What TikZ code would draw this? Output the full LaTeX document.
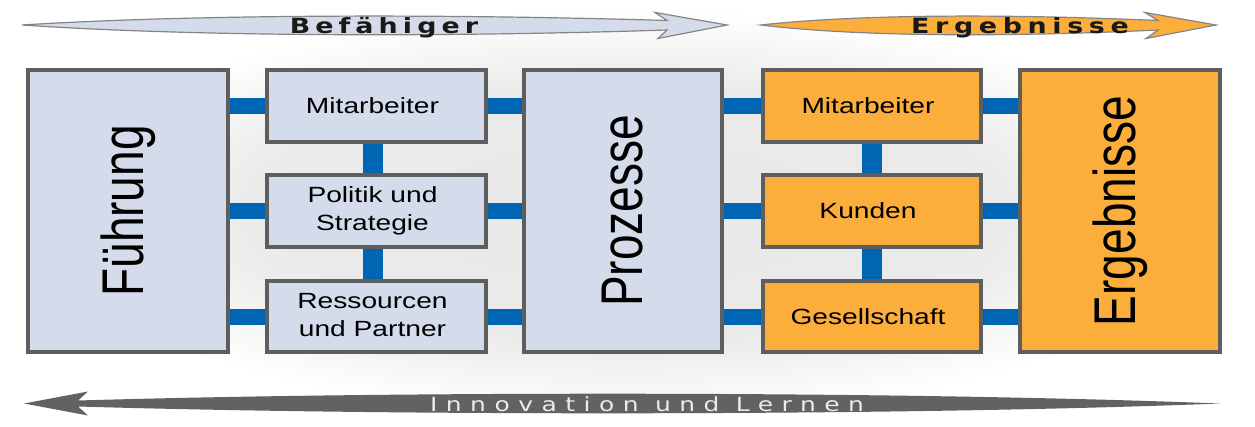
\documentclass[tikz,border=0pt]{standalone}
\usepackage{fontspec}
\usepackage{graphicx}
\setmainfont{Liberation Sans}
\newfontfamily\arrowfont[LetterSpace=19]{DejaVu Sans}
\newfontfamily\arrowfontE[LetterSpace=21]{DejaVu Sans}
\newfontfamily\innofont[LetterSpace=34]{DejaVu Sans}
\definecolor{boxblue}{HTML}{D4DCEB}
\definecolor{boxorange}{HTML}{FBAE3C}
\definecolor{connblue}{HTML}{0066B3}
\definecolor{bordergray}{HTML}{5E5E5E}
\definecolor{arrowgray}{HTML}{626262}
\definecolor{outlinegray}{HTML}{858585}
\pgfdeclareradialshading{bgglow}{\pgfpoint{0bp}{0bp}}{color(0bp)=(black!9); color(15bp)=(black!8); color(24bp)=(white); color(50bp)=(white)}
\pgfdeclarelayer{bg}
\pgfsetlayers{bg,main}
\newcommand{\hs}[1]{\hspace*{-8pt}\scalebox{1.28}[1]{#1}}
\newcommand{\vs}[1]{\rotatebox{90}{\scalebox{1}[1.28]{#1}}}
\newcommand{\twol}[2]{\hs{\begin{tabular}{@{}c@{}}#1\\#2\end{tabular}}}
\begin{document}
\begin{tikzpicture}[x=1pt,y=-1pt,
  box/.style={draw=bordergray, line width=4pt, inner sep=0pt, font=\fontsize{22}{28}\selectfont},
  blue box/.style={box, fill=boxblue},
  orange box/.style={box, fill=boxorange},
  big/.style={minimum width=200pt, minimum height=282pt, font=\fontsize{46}{50}\selectfont},
  small/.style={minimum width=219pt, minimum height=72pt},
  conn/.style={connblue, line width=16pt},
  vconn/.style={connblue, line width=20pt},
  toparrow/.style={draw=outlinegray, line width=1.2pt, line join=miter},
  ]
\useasboundingbox (0,0) rectangle (1255,426);

% boxes
\node[blue box, big] (F) at (128,211) {\vs{Führung}};
\node[blue box, small] (M1) at (376.5,106) {\hs{Mitarbeiter}};
\node[blue box, small] (P1) at (376.5,211) {\twol{Politik und}{Strategie}};
\node[blue box, small, minimum height=71pt] (R1) at (376.5,316.5) {\twol{Ressourcen}{und Partner}};
\node[blue box, big, minimum width=198pt] (Pz) at (623,211) {\vs{Prozesse}};
\node[orange box, small, minimum width=218pt] (M2) at (872,106) {\hs{Mitarbeiter}};
\node[orange box, small, minimum width=218pt] (K) at (872,211) {\hs{Kunden}};
\node[orange box, small, minimum width=218pt, minimum height=71pt] (G) at (872,316.5) {\hs{Gesellschaft}};
\node[orange box, big] (E) at (1120,211) {\vs{Ergebnisse}};

\begin{pgfonlayer}{bg}
  \shade[shading=bgglow] (0,0) rectangle (1255,426);
  \foreach \r in {M1,P1,R1} {
    \draw[conn] (F.east |- \r.center) -- (\r.west);
    \draw[conn] (\r.east) -- (Pz.west |- \r.center);
  }
  \foreach \r in {M2,K,G} {
    \draw[conn] (Pz.east |- \r.center) -- (\r.west);
    \draw[conn] (\r.east) -- (E.west |- \r.center);
  }
  \draw[vconn] ([xshift=-4pt]M1.south) -- ([xshift=-4pt]P1.north);
  \draw[vconn] ([xshift=-4pt]P1.south) -- ([xshift=-4pt]R1.north);
  \draw[vconn] (M2.south) -- (K.north);
  \draw[vconn] (K.south) -- (G.north);
\end{pgfonlayer}

% top arrows
\path[toparrow, fill=boxblue]
  (22,25) .. controls (200,14) and (450,14) .. (667,20.5)
  -- (655,12.5) -- (727,25) -- (658,38.5) -- (667,30)
  .. controls (450,37) and (200,37) .. (22,25) -- cycle;
\node[anchor=base, inner sep=0pt, font=\arrowfont\bfseries\fontsize{21}{23}\selectfont, text=black!90] (bef) at (388,33) {\hs{Befähiger}};

\path[toparrow, fill=boxorange]
  (761,25) .. controls (860,14) and (1010,14) .. (1158,20.5)
  -- (1145,12.5) -- (1216,25) -- (1146,38.5) -- (1158,30)
  .. controls (1010,37) and (860,37) .. (761,25) -- cycle;
\node[anchor=base, inner sep=0pt, font=\arrowfontE\bfseries\fontsize{21}{23}\selectfont, text=black!90] (erg) at (1024,33) {\hs{Ergebnisse}};

% bottom arrow
\fill[arrowgray]
  (24,403.5) -- (88,391.5) -- (78,400.5)
  .. controls (400,391) and (900,391) .. (1220,403.5)
  .. controls (900,416) and (400,416) .. (78,406.5)
  -- (88,415.5) -- cycle;
\node[anchor=base, inner sep=0pt, font=\innofont\fontsize{19.5}{21}\selectfont, text=white!92!black] (inn) at (651,411) {\hs{Innovation und Lernen}};
\end{tikzpicture}
\end{document}
